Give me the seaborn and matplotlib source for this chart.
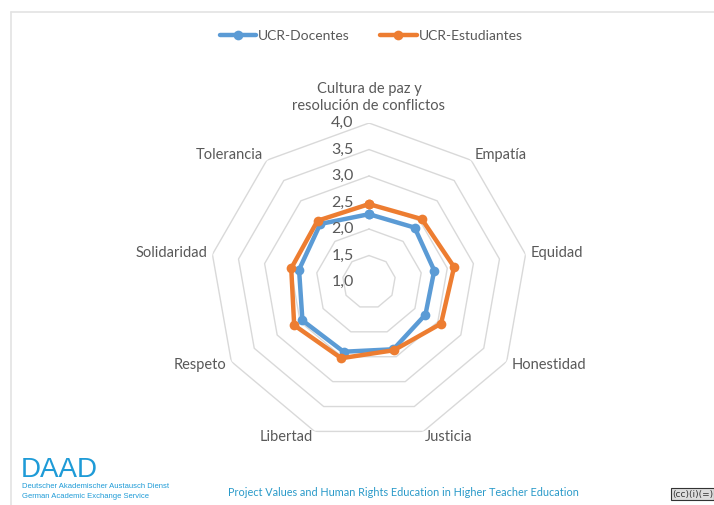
import numpy as np
import pandas as pd
import matplotlib
matplotlib.use("Agg")
import matplotlib.pyplot as plt
from matplotlib.lines import Line2D
import seaborn as sns

# -----------------------------
# Data
# -----------------------------
categories = [
    "Cultura de paz y\nresolución de conflictos",
    "Empatía",
    "Equidad",
    "Honestidad",
    "Justicia",
    "Libertad",
    "Respeto",
    "Solidaridad",
    "Tolerancia",
]
docentes = [2.28, 2.34, 2.25, 2.23, 2.35, 2.40, 2.45, 2.34, 2.43]
estudiantes = [2.47, 2.55, 2.63, 2.57, 2.37, 2.53, 2.63, 2.49, 2.51]
series_names = ["UCR-Docentes", "UCR-Estudiantes"]
ring_values = [1.5, 2.0, 2.5, 3.0, 3.5, 4.0]
tick_values = [1.0, 1.5, 2.0, 2.5, 3.0, 3.5, 4.0]

colors = {"UCR-Docentes": "#5B9BD5", "UCR-Estudiantes": "#ED7D31"}
text_gray = "#595959"

n = len(categories)
angles = np.linspace(0, 2 * np.pi, n, endpoint=False)

# long-form table, closing each polygon
rows = []
for name, vals in zip(series_names, [docentes, estudiantes]):
    for i in range(n + 1):
        k = i % n
        theta = angles[k] if i < n else 2 * np.pi
        rows.append({"theta": theta, "valor": vals[k], "serie": name, "orden": i})
data = pd.DataFrame(rows)

# -----------------------------
# Plot
# -----------------------------
sns.set_style("white")
plt.rcParams["font.family"] = ["Lato", "DejaVu Sans"]

fig = plt.figure(figsize=(7.14, 5.05), dpi=100)
ax = fig.add_axes([0.2941, 0.1267, 0.4454, 0.6297], projection="polar")
ax.set_theta_zero_location("N")
ax.set_theta_direction(-1)
ax.set_ylim(1.0, 4.0)
ax.grid(False)
ax.spines["polar"].set_visible(False)
ax.set_xticks([])
ax.set_yticks([])
ax.set_facecolor("none")

# polygon grid rings
closed = np.append(angles, 2 * np.pi)
for v in ring_values:
    ax.plot(closed, [v] * (n + 1), color="#D9D9D9", lw=1.0, zorder=1)

sns.lineplot(
    data=data, x="theta", y="valor", hue="serie", palette=colors,
    sort=False, estimator=None, marker="o", markersize=7,
    markeredgewidth=0, linewidth=3.2, ax=ax, legend=False, zorder=3,
)
ax.set_xlabel("")
ax.set_ylabel("")

# radial tick labels
for v in tick_values:
    ax.annotate(f"{v:.1f}".replace(".", ","), xy=(0, v), xytext=(-11, 0),
                textcoords="offset points", ha="right", va="center",
                fontsize=11.5, color=text_gray)

# category labels
for ang, lab in zip(angles, categories):
    s, c = np.sin(ang), np.cos(ang)
    if abs(s) < 0.05:
        ha, va = "center", "bottom"
        off = (0, 7)
    else:
        ha = "left" if s > 0 else "right"
        va = "center"
        off = (4 * s, 4.5 * c)
    ax.annotate(lab, xy=(ang, 4.0), xytext=off,
                textcoords="offset points", ha=ha, va=va, fontsize=10.5,
                color=text_gray, linespacing=1.3)

# legend
handles = [Line2D([0], [0], color=colors[s], lw=3.2, marker="o", markersize=7,
                  markeredgewidth=0) for s in series_names]
fig.legend(handles, series_names, loc="center", bbox_to_anchor=(0.52, 0.928),
           ncol=2, frameon=False, fontsize=10, handlelength=2.6,
           handletextpad=0.15, columnspacing=2.2, labelcolor=text_gray)

# chart border (top and left)
fig.add_artist(Line2D([11 / 714, 1], [1 - 12 / 505] * 2, color="#E3E3E3", lw=1.2))
fig.add_artist(Line2D([11 / 714] * 2, [1 - 12 / 505, 0.0], color="#E3E3E3", lw=1.2))

# footer
daad_blue = "#1E9BD7"
fig.text(21 / 714, 1 - 470 / 505, "DAAD", fontsize=20, color=daad_blue,
         family="Liberation Sans", va="center", ha="left")
fig.text(22 / 714, 1 - 487 / 505, "Deutscher Akademischer Austausch Dienst",
         fontsize=5.5, color=daad_blue, family="Liberation Sans", va="center")
fig.text(22 / 714, 1 - 496 / 505, "German Academic Exchange Service",
         fontsize=5.5, color=daad_blue, family="Liberation Sans", va="center")
fig.text(403 / 714, 1 - 492 / 505,
         "Project Values and Human Rights Education in Higher Teacher Education",
         fontsize=7.8, color="#2A9AC9", ha="center", va="center")
fig.text(672 / 714, 1 - 494 / 505, "(cc)(i)(=)", fontsize=6.5, color="#333333",
         ha="left", va="center", family="DejaVu Sans",
         bbox=dict(boxstyle="square,pad=0.15", fc="#DDDDDD", ec="#333333", lw=0.8))

fig.savefig("out.png", dpi=100)
